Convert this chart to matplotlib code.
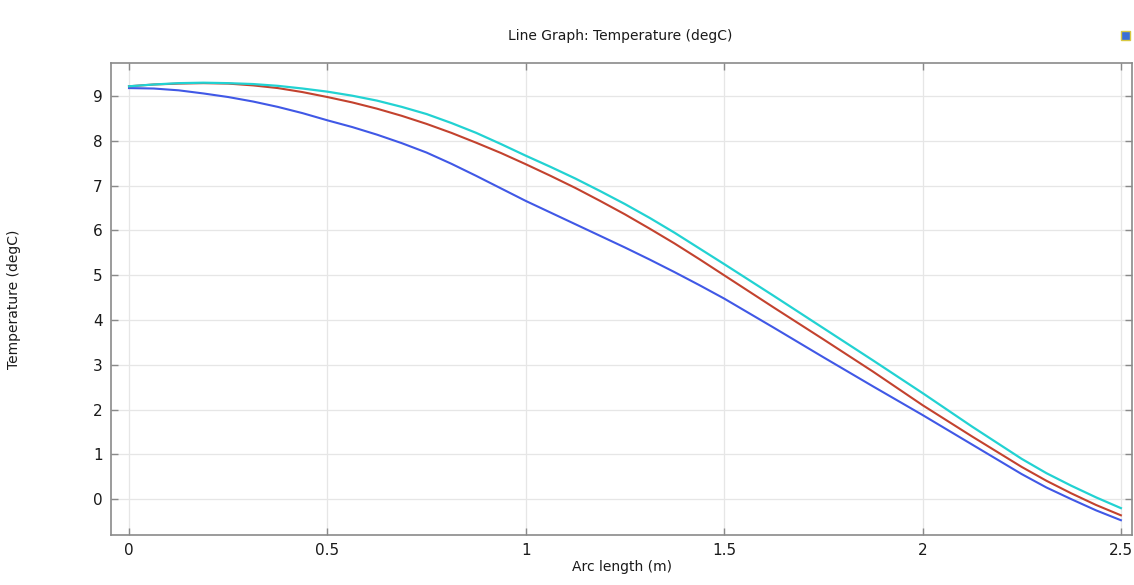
import matplotlib
matplotlib.use("Agg")
import matplotlib.pyplot as plt
from matplotlib.patches import Rectangle

# Arc length (m)
arc_length = [0.0, 0.0625, 0.125, 0.1875, 0.25, 0.3125, 0.375, 0.4375, 0.5, 0.5625,
              0.625, 0.6875, 0.75, 0.8125, 0.875, 0.9375, 1.0, 1.0625, 1.125, 1.1875,
              1.25, 1.3125, 1.375, 1.4375, 1.5, 1.625, 1.75, 1.875, 2.0, 2.125, 2.25,
              2.3125, 2.375, 2.4375, 2.5]

# Temperature (degC) for the three lines
temp_blue = [9.18, 9.17, 9.13, 9.06, 8.98, 8.88, 8.76, 8.62, 8.46, 8.31,
             8.14, 7.95, 7.74, 7.49, 7.22, 6.94, 6.66, 6.40, 6.14, 5.88,
             5.62, 5.35, 5.07, 4.78, 4.48, 3.83, 3.17, 2.52, 1.88, 1.22, 0.56,
             0.26, 0.0, -0.25, -0.47]
temp_red = [9.22, 9.26, 9.28, 9.29, 9.28, 9.24, 9.18, 9.09, 8.98, 8.86,
            8.72, 8.56, 8.38, 8.18, 7.96, 7.73, 7.48, 7.22, 6.95, 6.66,
            6.36, 6.04, 5.71, 5.36, 5.00, 4.28, 3.57, 2.85, 2.10, 1.40, 0.72,
            0.41, 0.13, -0.13, -0.36]
temp_cyan = [9.22, 9.26, 9.29, 9.30, 9.29, 9.27, 9.23, 9.17, 9.10, 9.01,
             8.90, 8.76, 8.60, 8.40, 8.18, 7.93, 7.67, 7.42, 7.16, 6.88,
             6.59, 6.28, 5.95, 5.60, 5.25, 4.54, 3.82, 3.10, 2.37, 1.62, 0.90,
             0.58, 0.30, 0.04, -0.20]

x_ticks = [0, 0.5, 1, 1.5, 2, 2.5]
x_tick_labels = ["0", "0.5", "1", "1.5", "2", "2.5"]
y_ticks = [0, 1, 2, 3, 4, 5, 6, 7, 8, 9]

plt.rcParams['font.family'] = ['DejaVu Sans']

fig = plt.figure(figsize=(11.34, 5.85), dpi=100)
ax = fig.add_axes([111/1134, 1-535/585, (1132-111)/1134, (535-63)/585])

ax.plot(arc_length, temp_blue, color='#4058e6', lw=1.5)
ax.plot(arc_length, temp_red, color='#c3422e', lw=1.5)
ax.plot(arc_length, temp_cyan, color='#22d2d2', lw=1.6)

ax.set_xlim(-0.0454, 2.528)
ax.set_ylim(-0.80, 9.74)
ax.set_xticks(x_ticks)
ax.set_xticklabels(x_tick_labels)
ax.set_yticks(y_ticks)

ax.grid(True, color='#e6e6e6', lw=0.9)
ax.set_axisbelow(True)
for s in ax.spines.values():
    s.set_color('#8a8a8a')
    s.set_linewidth(1.2)
ax.tick_params(direction='in', top=True, right=True, length=5, width=1,
               color='#8a8a8a', labelsize=11, labelcolor='#1a1a1a', pad=6)

ax.set_xlabel("Arc length (m)", fontsize=10, color='#1a1a1a', labelpad=1)
ax.set_ylabel("Temperature (degC)", fontsize=10, color='#1a1a1a')
ax.yaxis.set_label_coords(-0.088, 0.5)
fig.text(0.547, 1-36/585, "Line Graph: Temperature (degC)", ha='center', va='center',
         fontsize=10, color='#1a1a1a')

# small icon at top right
fig.patches.append(Rectangle((1121/1134, 1-40/585), 9/1134, 9/585,
                             transform=fig.transFigure, facecolor='#3a6fd8',
                             edgecolor='#d8c840', lw=1))

fig.savefig("out.png", dpi=100, facecolor='white')
